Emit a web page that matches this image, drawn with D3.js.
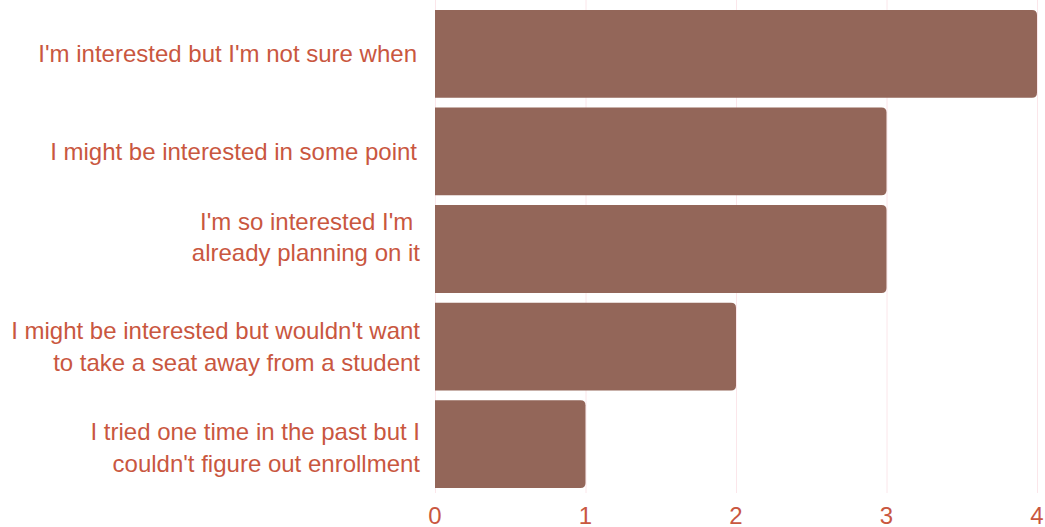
<!DOCTYPE html>
<html>
<head>
<meta charset="utf-8">
<script src="https://cdn.jsdelivr.net/npm/d3@7"></script>
<style>
    body { margin: 0; background: #fff; }
    svg { display: block; }
    text { font-family: "Liberation Sans", Arial, sans-serif; }
</style>
</head>
<body>
<div id="chart"></div>
<script>
// Data
const categories = [
    ["I'm interested but I'm not sure when"],
    ["I might be interested in some point"],
    ["I'm so interested I'm ", "already planning on it"],
    ["I might be interested but wouldn't want", "to take a seat away from a student"],
    ["I tried one time in the past but I", "couldn't figure out enrollment"]
];
const counts = [4, 3, 3, 2, 1];
const ticks = [0, 1, 2, 3, 4];

// Meta
const width = 1045;
const height = 527;
const margin = {top: 5, right: 8, bottom: 34, left: 435};
const barColor = "#936659";
const textColor = "#c9573f";
const gridColor = "#fbe6ea";
// small vertical nudges of the label blocks, as in the original layout
const labelShift = [0, 0, -12, 0, 3];

const svg = d3.select("#chart")
    .append("svg")
    .attr("width", width)
    .attr("height", height);

const xScale = d3.scaleLinear()
    .domain([0, 4])
    .range([margin.left, width - margin.right]);
const yScale = d3.scaleBand()
    .domain(d3.range(categories.length))
    .range([margin.top, height - margin.bottom])
    .paddingInner(0.1)
    .paddingOuter(0.05);

// Gridlines
svg.append("g")
    .selectAll("line")
    .data(ticks)
    .enter()
    .append("line")
    .attr("x1", d => xScale(d) + 0.5)
    .attr("x2", d => xScale(d) + 0.5)
    .attr("y1", 0)
    .attr("y2", height - margin.bottom)
    .attr("stroke", gridColor)
    .attr("stroke-width", 1);

// Bars with rounded right end
const r = 5;
svg.append("g")
    .selectAll("path")
    .data(counts)
    .enter()
    .append("path")
    .attr("fill", barColor)
    .attr("d", (d, i) => {
        const x0 = xScale(0), x1 = xScale(d);
        const y0 = yScale(i), y1 = yScale(i) + yScale.bandwidth();
        return `M${x0},${y0}H${x1 - r}Q${x1},${y0} ${x1},${y0 + r}V${y1 - r}Q${x1},${y1} ${x1 - r},${y1}H${x0}Z`;
    });

// Category labels
const fontSize = 24;
const lineHeight = 31.7;
const labels = svg.append("g")
    .selectAll("text")
    .data(categories)
    .enter()
    .append("text")
    .attr("text-anchor", "end")
    .attr("fill", textColor)
    .style("font-size", fontSize + "px")
    .style("white-space", "pre");
labels.each(function (lines, i) {
    const cy = yScale(i) + yScale.bandwidth() / 2 + labelShift[i];
    const start = cy - (lines.length - 1) * lineHeight / 2;
    d3.select(this).selectAll("tspan")
        .data(lines)
        .enter()
        .append("tspan")
        .attr("x", lines.length > 1 ? 420 : 417)
        .attr("y", (l, j) => start + j * lineHeight + 8.6)
        .text(l => l);
});

// X axis labels
svg.append("g")
    .selectAll("text")
    .data(ticks)
    .enter()
    .append("text")
    .attr("x", d => xScale(d))
    .attr("y", 524)
    .attr("text-anchor", "middle")
    .attr("fill", textColor)
    .style("font-size", fontSize + "px")
    .text(d => d);
</script>
</body>
</html>
